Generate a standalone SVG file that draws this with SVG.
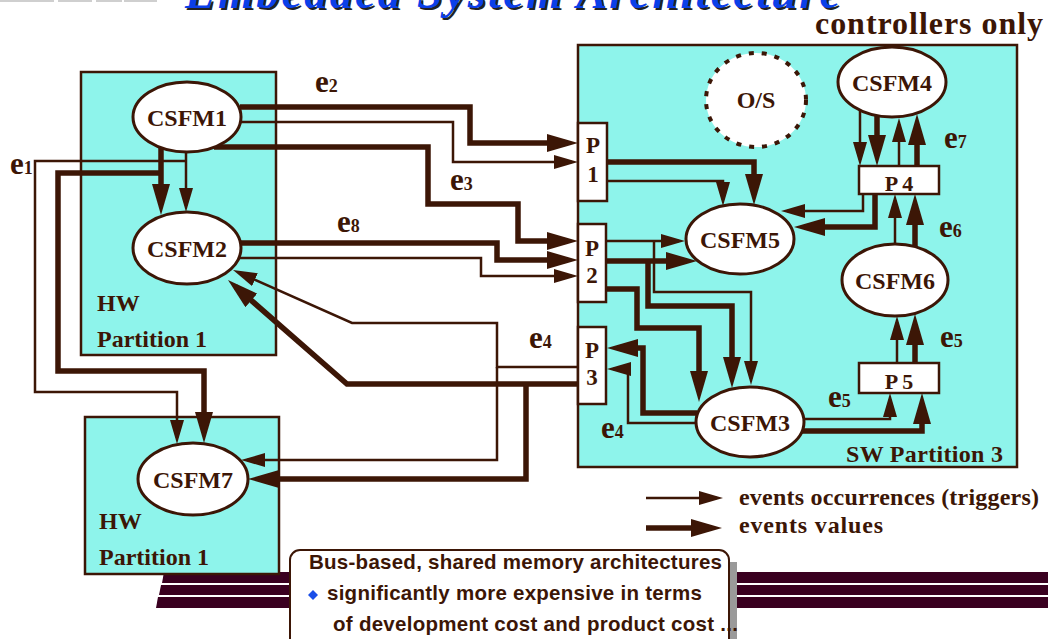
<svg xmlns="http://www.w3.org/2000/svg" width="1048" height="639" viewBox="0 0 1048 639">
<style>
.part{fill:#8ef4eb;stroke:#3c1606;stroke-width:2.5}
.node{fill:#fff;stroke:#3c1606;stroke-width:3}
.pbox{fill:#fff;stroke:#3c1606;stroke-width:2.5}
.lbl{font-family:"Liberation Serif",serif;font-weight:bold;fill:#3c1606}
.thick{fill:none;stroke:#3c1606;stroke-width:5.5;stroke-linejoin:miter;marker-end:url(#ah)}
.thin{fill:none;stroke:#3c1606;stroke-width:2.5;stroke-linejoin:miter;marker-end:url(#at)}
.stripe{fill:#3a0020}
.note{font-family:"Liberation Sans",Arial,sans-serif;font-weight:bold;font-size:20.5px;fill:#3c1606}
</style>
<defs>
<marker id="ah" markerUnits="userSpaceOnUse" markerWidth="31" markerHeight="18" refX="21" refY="9" orient="auto"><path d="M0,0 L31,9 L0,18 z" fill="#3c1606"/></marker>
<marker id="at" markerUnits="userSpaceOnUse" markerWidth="24" markerHeight="14" refX="18" refY="7" orient="auto"><path d="M0,0 L24,7 L0,14 z" fill="#3c1606"/></marker>
</defs>
<rect width="1048" height="639" fill="#fff"/>
<g id="topbars" fill="#cfcfcf">
<rect x="0" y="0" width="54" height="2"/><rect x="58" y="0" width="34" height="2"/><rect x="96" y="0" width="26" height="2"/><rect x="124" y="0" width="33" height="2"/>
</g>
<g id="title">
<text x="187" y="10" font-family="Liberation Serif,serif" font-style="italic" font-weight="bold" font-size="46" fill="#222" textLength="655">Embedded System Architecture</text>
<text x="185" y="8" font-family="Liberation Serif,serif" font-style="italic" font-weight="bold" font-size="46" fill="#0b3fe8" textLength="655">Embedded System Architecture</text>
</g>
<text class="lbl" x="815" y="34" font-size="32" textLength="228">controllers only</text>
<g id="bus">
<polygon class="stripe" points="164,572 1048,572 1048,583 162,583"/>
<polygon class="stripe" points="161,585 1048,585 1048,595 159,595"/>
<polygon class="stripe" points="158,597 1048,597 1048,608 156,608"/>
</g>
<g id="hw1"><rect class="part" x="81" y="72" width="195" height="283"/>
<text class="lbl" x="97" y="311" font-size="24">HW</text><text class="lbl" x="97" y="347" font-size="24">Partition 1</text></g>
<g id="hw1b"><rect class="part" x="85" y="417" width="194" height="157"/>
<text class="lbl" x="99" y="529" font-size="24">HW</text><text class="lbl" x="99" y="565" font-size="24">Partition 1</text></g>
<g id="sw3"><rect class="part" x="578" y="45" width="439" height="422"/>
<text class="lbl" x="846" y="462" font-size="24" textLength="157">SW Partition 3</text></g>
<g id="connectors">
<path class="thick" d="M240,107 H470 V143 H568"/>
<path class="thin" d="M240,122 H453 V162 H572"/>
<path class="thick" d="M214,147 H428 V204 H518 V241 H568"/>
<path class="thick" d="M161,148 V205"/>
<path class="thin" d="M186,152 V206"/>
<path class="thin" d="M186,161 H35 V392 H177 V438"/>
<path class="thick" d="M161,173 H58 V371 H204 V433"/>
<path class="thick" d="M240,243 H497 V260 H568"/>
<path class="thin" d="M240,258 H481 V276 H572"/>
<path class="thin" d="M578,367 H497 V323 H352 L238.5,272.4"/>
<path class="thin" d="M497,367 V460 H247"/>
<path class="thick" d="M578,384 H347 L235.5,286.6"/>
<path class="thick" d="M526,384 V479 H258"/>
<path class="thick" d="M606,162 H754 V195"/>
<path class="thin" d="M603,181 H723 V200"/>
<path class="thin" d="M863,194 V211 H787"/>
<path class="thick" d="M875,194 V227 H804"/>
<path class="thin" d="M860,110 V160"/>
<path class="thick" d="M877,116 V156"/>
<path class="thin" d="M899,166 V124"/>
<path class="thick" d="M917,166 V124"/>
<path class="thin" d="M895,245 V200"/>
<path class="thick" d="M915,247 V204"/>
<path class="thin" d="M897,363 V322"/>
<path class="thick" d="M915,363 V324"/>
<path class="thin" d="M802,419 H890 V399"/>
<path class="thick" d="M801,431 H922 V403"/>
<path class="thin" d="M606,241 H679"/>
<path class="thin" d="M654,241 V292 H751 V379"/>
<path class="thick" d="M606,261 H687"/>
<path class="thick" d="M648,261 V306 H732 V378"/>
<path class="thick" d="M606,289 H637 V328 H699 V392"/>
<path class="thick" d="M697,413 H643 V348 H617"/>
<path class="thin" d="M697,423 H628 V369 H613"/>
</g>
<g id="os"><ellipse cx="756" cy="100" rx="50" ry="47" fill="#fff" stroke="#3c1606" stroke-width="4" stroke-dasharray="5 8"/>
<text class="lbl" x="756" y="108" font-size="24" text-anchor="middle">O/S</text></g>
<g id="csfm1"><ellipse class="node" cx="187" cy="117" rx="54" ry="35"/><text class="lbl" x="187" y="126" font-size="24" text-anchor="middle">CSFM1</text></g>
<g id="csfm2"><ellipse class="node" cx="187" cy="248" rx="54" ry="36"/><text class="lbl" x="187" y="257" font-size="24" text-anchor="middle">CSFM2</text></g>
<g id="csfm7"><ellipse class="node" cx="193" cy="479" rx="55" ry="36"/><text class="lbl" x="193" y="488" font-size="24" text-anchor="middle">CSFM7</text></g>
<g id="csfm4"><ellipse class="node" cx="892" cy="82" rx="54" ry="35"/><text class="lbl" x="892" y="91" font-size="24" text-anchor="middle">CSFM4</text></g>
<g id="csfm5"><ellipse class="node" cx="740" cy="239" rx="54" ry="35"/><text class="lbl" x="740" y="248" font-size="24" text-anchor="middle">CSFM5</text></g>
<g id="csfm6"><ellipse class="node" cx="895" cy="280" rx="53" ry="36"/><text class="lbl" x="895" y="289" font-size="24" text-anchor="middle">CSFM6</text></g>
<g id="csfm3"><ellipse class="node" cx="750" cy="422" rx="54" ry="35"/><text class="lbl" x="750" y="431" font-size="24" text-anchor="middle">CSFM3</text></g>
<g id="p1"><rect class="pbox" x="578" y="123" width="29" height="78"/><text class="lbl" x="593" y="153" font-size="23" text-anchor="middle">P</text><text class="lbl" x="593" y="182" font-size="23" text-anchor="middle">1</text></g>
<g id="p2"><rect class="pbox" x="578" y="224" width="28" height="78"/><text class="lbl" x="592" y="256" font-size="23" text-anchor="middle">P</text><text class="lbl" x="592" y="283" font-size="23" text-anchor="middle">2</text></g>
<g id="p3"><rect class="pbox" x="578" y="327" width="28" height="77"/><text class="lbl" x="592" y="358" font-size="23" text-anchor="middle">P</text><text class="lbl" x="592" y="385" font-size="23" text-anchor="middle">3</text></g>
<g id="p4"><rect class="pbox" x="859" y="166" width="80" height="28"/><text class="lbl" x="899" y="191" font-size="22" text-anchor="middle">P 4</text></g>
<g id="p5"><rect class="pbox" x="859" y="363" width="80" height="30"/><text class="lbl" x="899" y="389" font-size="22" text-anchor="middle">P 5</text></g>
<g id="elabels">
<text class="lbl" x="315" y="92" font-size="31">e<tspan font-size="18">2</tspan></text>
<text class="lbl" x="10" y="174" font-size="31">e<tspan font-size="18">1</tspan></text>
<text class="lbl" x="450" y="190" font-size="31">e<tspan font-size="18">3</tspan></text>
<text class="lbl" x="337" y="232" font-size="31">e<tspan font-size="18">8</tspan></text>
<text class="lbl" x="529" y="348" font-size="31">e<tspan font-size="18">4</tspan></text>
<text class="lbl" x="601" y="438" font-size="31">e<tspan font-size="18">4</tspan></text>
<text class="lbl" x="828" y="407" font-size="31">e<tspan font-size="18">5</tspan></text>
<text class="lbl" x="940" y="347" font-size="31">e<tspan font-size="18">5</tspan></text>
<text class="lbl" x="939" y="237" font-size="31">e<tspan font-size="18">6</tspan></text>
<text class="lbl" x="944" y="148" font-size="31">e<tspan font-size="18">7</tspan></text>
</g>
<g id="legend">
<path class="thin" d="M646,498 H717"/>
<path class="thick" d="M646,528 H712"/>
<text class="lbl" x="739" y="505" font-size="24" textLength="300">events occurrences (triggers)</text>
<text class="lbl" x="739" y="533" font-size="24" textLength="144">events values</text>
</g>
<g id="notebox">
<rect x="729" y="562" width="8" height="90" fill="#9a9a9a"/>
<rect x="290" y="550" width="439" height="110" rx="10" fill="#fff" stroke="#3c1606" stroke-width="2"/>
<text class="note" x="309" y="569" textLength="413">Bus-based, shared memory architectures</text>
<path d="M313,590 L318,595 L313,600 L308,595 z" fill="#1a4ee8"/>
<text class="note" x="327" y="600" textLength="375">significantly more expensive in terms</text>
<text class="note" x="333" y="631" textLength="405">of development cost and product cost ...</text>
</g>
</svg>
